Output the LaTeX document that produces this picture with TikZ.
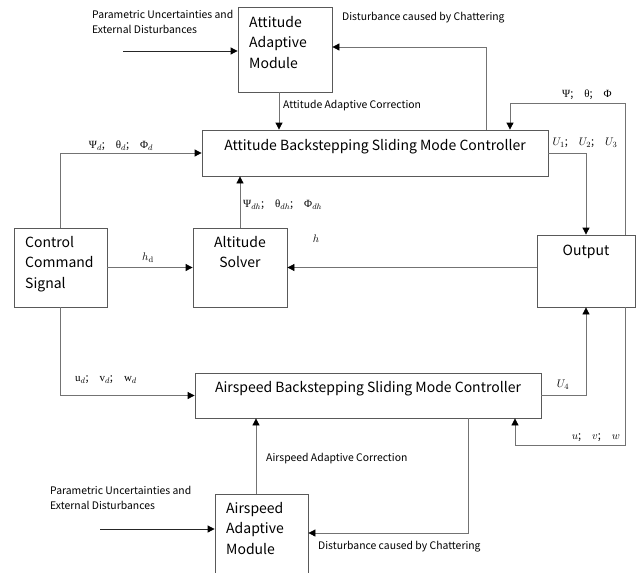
\documentclass[tikz,border=0pt]{standalone}
\usepackage[no-math]{fontspec}
\setmainfont{Noto Sans CJK SC}
\newfontfamily\grkfont{Liberation Serif}
\usetikzlibrary{arrows.meta, positioning, calc}

\newcommand{\gk}[1]{{\grkfont #1}}

\tikzset{
  box/.style={draw=black!65, line width=0.8pt, inner sep=0pt},
  wire/.style={draw=black!55, line width=0.8pt},
  tip/.style={wire, -{Triangle[length=7pt, width=7pt, color=black]}},
  big/.style={font=\fontsize{14}{20.5}\selectfont, inner sep=0pt},
  small/.style={font=\fontsize{10.4}{15}\selectfont, inner sep=0pt},
  sym/.style={font=\fontsize{11}{13}\selectfont, inner sep=0pt}
}

\begin{document}
\begin{tikzpicture}[x=1pt, y=-1pt]
  \useasboundingbox (0,0) rectangle (640,573);

  % blocks
  \node[box, minimum width=94pt, minimum height=85pt] (attmod) at (285,49.5) {};
  \node[box, minimum width=346pt, minimum height=46pt] (absmc) at (375,153) {};
  \node[box, minimum width=93pt, minimum height=79pt] (ccs) at (60.5,267.5) {};
  \node[box, minimum width=94pt, minimum height=79pt] (solver) at (240,267.5) {};
  \node[box, minimum width=98pt, minimum height=72pt] (output) at (586,271) {};
  \node[box, minimum width=346pt, minimum height=45pt] (asbsmc) at (368,395.5) {};
  \node[box, minimum width=93pt, minimum height=84pt] (asmod) at (261.5,536) {};

  % block texts
  \node[big, align=left, anchor=north west] (attmodtxt) at (249,16) {Attitude\\Adaptive\\Module};
  \node[big] (absmctxt) at (375,147) {Attitude Backstepping Sliding Mode Controller};
  \node[big, align=left, anchor=north west] (ccstxt) at (25,236) {Control\\Command\\Signal};
  \node[big, align=center, anchor=north] (solvertxt) at (240,236) {Altitude\\Solver};
  \node[big] (outputtxt) at (586,252) {Output};
  \node[big] (asbsmctxt) at (368,389) {Airspeed Backstepping Sliding Mode Controller};
  \node[big, align=left, anchor=north west] (asmodtxt) at (226,502) {Airspeed\\Adaptive\\Module};

  % labels
  \node[small, align=left, anchor=north west] (unc1) at (92,10) {Parametric Uncertainties and\\External Disturbances};
  \node[small, anchor=west] (chat1txt) at (342,18) {Disturbance caused by Chattering};
  \node[small, anchor=west] (corr1txt) at (283,106) {Attitude Adaptive Correction};
  \node[small, align=left, anchor=north west] (unc2) at (50,486) {Parametric Uncertainties and\\External Disturbances};
  \node[small, anchor=west] (chat2txt) at (318,547) {Disturbance caused by Chattering};
  \node[small, anchor=west] (corr2txt) at (266,459) {Airspeed Adaptive Correction};

  \node[sym] (angd) at (121,146) {\gk{Ψ}$_d$;\quad\gk{θ}$_d$;\quad\gk{Φ}$_d$};
  \node[sym, anchor=west] (angdh) at (243,205) {\gk{Ψ}$_{dh}$;\quad\gk{θ}$_{dh}$;\quad\gk{Φ}$_{dh}$};
  \node[sym] (hlab) at (316,239) {$h$};
  \node[sym] (hdlab) at (148,258) {$h_{\mathrm{d}}$};
  \node[sym] (ulab) at (585,143) {$U_1$;\quad$U_2$;\quad$U_3$};
  \node[sym] (anglab) at (587,95) {\gk{Ψ};\quad\gk{θ};\quad\gk{Φ}};
  \node[sym] (uvwd) at (106,380) {\gk{u}$_d$;\quad\gk{v}$_d$;\quad\gk{w}$_d$};
  \node[sym] (u4lab) at (563,385) {$U_4$};
  \node[sym] (uvw) at (596,438) {$u$;\quad$v$;\quad$w$};

  % helper points
  \coordinate (in1) at (123,51);
  \coordinate (in2) at (100,529);
  \coordinate (c1) at (486,47);
  \coordinate (c2) at (279,0);
  \coordinate (c3) at (625,103);
  \coordinate (c4) at (510,103);
  \coordinate (c5) at (515,445);
  \coordinate (c6) at (256,0);
  \coordinate (c7) at (468,533);

  % connectors
  \draw[tip, draw=black!85] (in1) -- (in1 -| attmod.west);
  \draw[tip] (c1 |- absmc.north) -- (c1) -- (c1 -| attmod.east);
  \draw[tip] (c2 |- attmod.south) -- (c2 |- absmc.north);
  \draw[tip] (ccs.north) |- (absmc.west);
  \draw[tip] (ccs.east) -- (solver.west);
  \draw[tip] (solver.north) -- (solver.north |- absmc.south);
  \draw[tip] (output.west |- solver.east) -- (solver.east);
  \draw[tip] (absmc.east) -| (output.north);
  \draw[tip] (c3 |- output.north) -- (c3) -| (c4 |- absmc.north);
  \draw[tip] (c3 |- output.south) |- (c5) -- (c5 |- asbsmc.south);
  \draw[tip] (ccs.south) |- (asbsmc.west);
  \draw[tip] (asbsmc.east) -| (output.south);
  \draw[tip] (c6 |- asmod.north) -- (c6 |- asbsmc.south);
  \draw[tip, draw=black!85] (in2) -- (in2 -| asmod.west);
  \draw[tip] (c7 |- asbsmc.south) -- (c7) -- (c7 -| asmod.east);
\end{tikzpicture}
\end{document}
